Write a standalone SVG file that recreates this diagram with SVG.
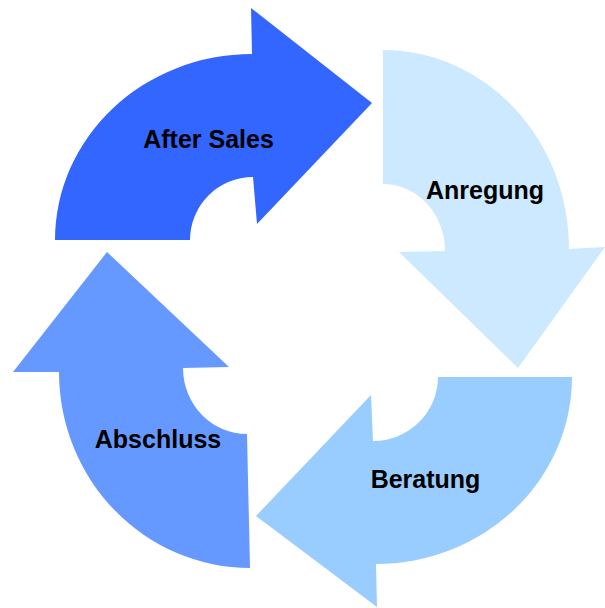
<svg xmlns="http://www.w3.org/2000/svg" width="605" height="608" viewBox="0 0 605 608">
<style>
.lbl{font-family:"Liberation Sans",Arial,sans-serif;font-weight:bold;font-size:25px;fill:#000;text-anchor:middle}
</style>
<rect width="605" height="608" fill="#fff"/>
<g id="after-sales">
<path d="M55,240 A197,186 0 0 1 252,54 L251,8 L372,103 L257,224 L253,177 A63,63 0 0 0 190,240 Z" fill="#3366FF"/>
<text class="lbl" x="208.5" y="148">After Sales</text>
</g>
<g id="anregung">
<path d="M383,50 A186,199 0 0 1 569,249 L605,247 L518,368 L399,252 L445,251 A62,67 0 0 0 383,184 Z" fill="#CCE9FF"/>
<text class="lbl" x="485" y="199">Anregung</text>
</g>
<g id="beratung">
<path d="M572,377 A196,187 0 0 1 376,564 L377,607 L256,516 L371,395 L373,441 A65,64 0 0 0 438,377 Z" fill="#99CCFF"/>
<text class="lbl" x="425.5" y="488">Beratung</text>
</g>
<g id="abschluss">
<path d="M250,568 A191,196 0 0 1 59,372 L13,372 L107,252 L229,367 L183,368 A64,66 0 0 0 247,434 Z" fill="#6699FF"/>
<text class="lbl" x="158" y="448">Abschluss</text>
</g>
<g id="connectors"></g>
</svg>
